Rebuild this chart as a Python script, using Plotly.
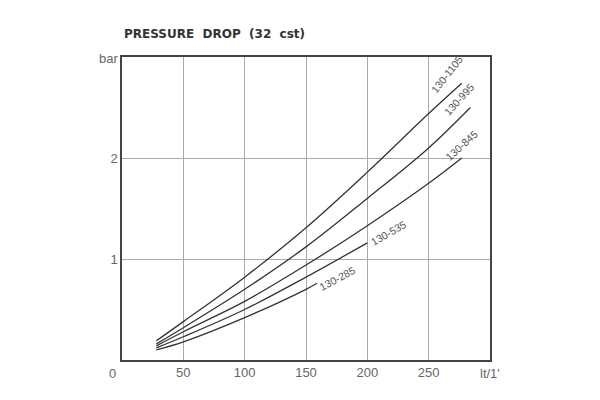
import plotly.graph_objects as go

# Data (flow lt/1' vs pressure drop bar)
names = ["130-1105", "130-995", "130-845", "130-535", "130-285"]
flows = [
    [28, 50, 100, 150, 200, 250, 277],
    [28, 50, 100, 150, 200, 250, 284],
    [28, 50, 100, 150, 200, 250, 277],
    [28, 50, 100, 150, 200],
    [28, 50, 100, 150, 159],
]
drops = [
    [0.19, 0.38, 0.82, 1.31, 1.86, 2.44, 2.74],
    [0.16, 0.32, 0.70, 1.12, 1.60, 2.10, 2.50],
    [0.14, 0.28, 0.58, 0.94, 1.33, 1.75, 2.00],
    [0.12, 0.23, 0.50, 0.82, 1.16],
    [0.10, 0.18, 0.42, 0.70, 0.76],
]
label_pos = [(265, 2.83), (275, 2.58), (277, 2.13), (217, 1.26), (176, 0.81)]
label_angle = [-52, -48, -42, -30, -28]
x_ticks = [50, 100, 150, 200, 250]
y_ticks = [1, 2]

fig = go.Figure()
for n, q, d in zip(names, flows, drops):
    fig.add_trace(go.Scatter(x=q, y=d, mode="lines", name=n,
                             line=dict(color="#333333", width=1.3, shape="spline", smoothing=1.0),
                             showlegend=False))

for n, (lx, ly), a in zip(names, label_pos, label_angle):
    fig.add_annotation(x=lx, y=ly, text=n, showarrow=False, textangle=a,
                       font=dict(family="Liberation Sans", size=10.5, color="#555555"))

fig.add_annotation(x=0, y=0, text="0", showarrow=False, xanchor="right", yanchor="top",
                   xshift=-4, yshift=-4, font=dict(family="Liberation Sans", size=13, color="#666"))
fig.add_annotation(x=300, y=0, text="lt/1'", showarrow=False, xanchor="center", yanchor="top",
                   yshift=-4, font=dict(family="Liberation Sans", size=13, color="#666"))
fig.add_annotation(x=0, y=3, text="bar", showarrow=False, xanchor="right", yanchor="middle",
                   xshift=-2, yshift=-1, font=dict(family="Liberation Sans", size=13, color="#666"))
fig.add_annotation(x=0, y=3, text="<b>PRESSURE  DROP  (32  cst)</b>", showarrow=False,
                   xanchor="left", yanchor="bottom", yshift=14,
                   font=dict(family="DejaVu Sans", size=12, color="#333"))

fig.update_xaxes(range=[0, 300], tickvals=x_ticks, showgrid=True, gridcolor="#aaaaaa",
                 gridwidth=1, showline=True, linecolor="#444", linewidth=1.5, mirror=True,
                 zeroline=False, ticks="", tickfont=dict(family="Liberation Sans", size=13, color="#666"))
fig.update_yaxes(range=[0, 3], tickvals=y_ticks, showgrid=True, gridcolor="#aaaaaa",
                 gridwidth=1, showline=True, linecolor="#444", linewidth=1.5, mirror=True,
                 zeroline=False, ticks="", tickfont=dict(family="Liberation Sans", size=13, color="#666"))

fig.update_layout(width=600, height=400, margin=dict(l=122, r=110, t=57, b=40),
                  plot_bgcolor="white", paper_bgcolor="white")
fig.write_html("out.html")
